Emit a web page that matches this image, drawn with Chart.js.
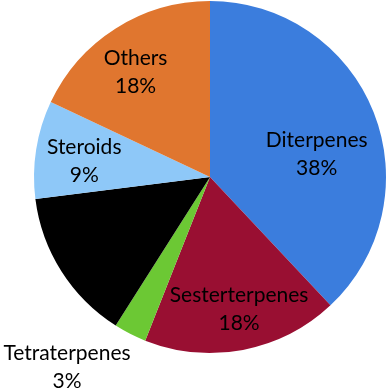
<!DOCTYPE html>
<html>
<head>
<meta charset="utf-8">
<script src="https://cdn.jsdelivr.net/npm/chart.js@4.4.0/dist/chart.umd.min.js"></script>
<style>
    html, body { margin: 0; padding: 0; background: #fff; }
    #wrap { width: 387px; height: 390px; }
</style>
</head>
<body>
<div id="wrap"><canvas id="pieChart"></canvas></div>
<script>
var categories = ['Diterpenes', 'Sesterterpenes', 'Tetraterpenes', '', 'Steroids', 'Others'];
var shares = [38, 18, 3, 14, 9, 18];
var sliceColors = ['#3b7ddd', '#990f32', '#6cc834', '#000000', '#8ec8f8', '#e0762f'];

// where each label sits: fraction of radius, angle shift (deg) from the slice middle
var labelPlace = [
    { r: 0.62, shift: 9.5 },
    { r: 0.77, shift: -1.6 },
    { r: 1.35, shift: 10 },
    null,
    { r: 0.72, shift: -2 },
    { r: 0.73, shift: -3 }
];

var sliceLabels = {
    id: 'sliceLabels',
    afterDatasetsDraw: function (chart) {
        var ctx = chart.ctx;
        var meta = chart.getDatasetMeta(0);
        ctx.save();
        ctx.font = '21px Lato, "Open Sans", sans-serif';
        ctx.fillStyle = '#000';
        ctx.textAlign = 'center';
        ctx.textBaseline = 'middle';
        meta.data.forEach(function (arc, i) {
            var place = labelPlace[i];
            if (!place || !categories[i]) return;
            var mid = (arc.startAngle + arc.endAngle) / 2 + place.shift * Math.PI / 180;
            var dist = arc.outerRadius * place.r;
            var x = arc.x + Math.cos(mid) * dist;
            var y = arc.y + Math.sin(mid) * dist;
            ctx.fillText(categories[i], x, y - 14);
            ctx.fillText(shares[i] + '%', x, y + 14);
        });
        ctx.restore();
    }
};

var pieChart = new Chart(document.getElementById('pieChart'), {
    type: 'pie',
    data: {
        labels: categories,
        datasets: [{
            data: shares,
            backgroundColor: sliceColors,
            borderWidth: 0
        }]
    },
    options: {
        responsive: true,
        maintainAspectRatio: false,
        animation: false,
        layout: { padding: { left: 34, right: 1, top: 1, bottom: 37 } },
        plugins: {
            legend: { display: false },
            tooltip: { enabled: false }
        }
    },
    plugins: [sliceLabels]
});
</script>
</body>
</html>
